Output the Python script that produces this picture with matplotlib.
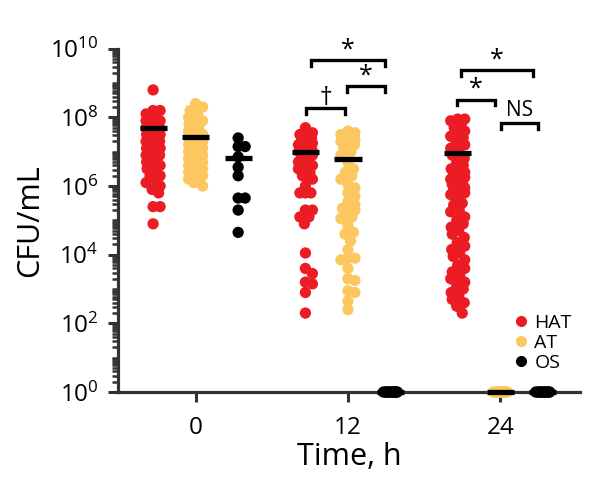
import numpy as np
import matplotlib
matplotlib.use("Agg")
from matplotlib import pyplot as plt
from matplotlib.ticker import FixedLocator, NullFormatter, LogFormatterSciNotation
from matplotlib.lines import Line2D

plt.rcParams['font.family'] = ['Open Sans', 'DejaVu Sans']
plt.rcParams['mathtext.fontset'] = 'custom'
plt.rcParams['mathtext.rm'] = 'Open Sans'

# data, log10 CFU/mL (0 = below detection, plotted at 10^0)
times = [0, 12, 24]
groups = ["HAT", "AT", "OS"]
colors = {"HAT": "#ec1c24", "AT": "#fdc75f", "OS": "#000000"}

hat_0 = [8.8, 8.2, 8.2, 8.1, 8.0, 8.0, 7.9, 7.9, 7.8, 7.8, 7.7, 7.7, 7.6, 7.6, 7.5,
         7.5, 7.4, 7.4, 7.3, 7.3, 7.2, 7.2, 7.1, 7.1, 7.0, 7.0, 6.9, 6.9, 6.8, 6.8,
         6.7, 6.6, 6.6, 6.5, 6.4, 6.3, 6.3, 6.2, 6.1, 6.0, 5.9, 5.8, 5.4, 5.4, 4.9]
at_0 = [8.4, 8.3, 8.2, 8.1, 8.0, 7.9, 7.9, 7.8, 7.7, 7.7, 7.6, 7.5, 7.5, 7.4, 7.4,
        7.3, 7.3, 7.2, 7.2, 7.1, 7.1, 7.0, 7.0, 6.9, 6.9, 6.8, 6.8, 6.7, 6.7, 6.6,
        6.6, 6.5, 6.5, 6.4, 6.4, 6.3, 6.3, 6.2, 6.2, 6.1, 6.0]
os_0 = [7.4, 7.15, 7.15, 6.85, 6.55, 6.3, 5.65, 5.65, 5.3, 4.65]

hat_12 = [7.7, 7.55, 7.5, 7.45, 7.4, 7.35, 7.3, 7.25, 7.2, 7.1, 7.05, 7.0, 6.95, 6.9,
          6.85, 6.8, 6.7, 6.6, 6.55, 6.5, 6.4, 6.3, 6.3, 6.2, 6.0, 5.8, 5.8, 5.8,
          5.3, 5.3, 5.1, 5.1, 4.9, 4.05, 3.6, 3.45, 3.2, 3.15, 2.9, 2.3]
at_12 = [7.6, 7.55, 7.5, 7.45, 7.4, 7.35, 7.3, 7.25, 7.2, 7.1, 7.0, 6.9, 6.7, 6.5,
         6.4, 6.3, 6.2, 6.05, 5.95, 5.8, 5.7, 5.55, 5.45, 5.35, 5.3, 5.3, 5.2, 5.1,
         5.05, 4.85, 4.65, 4.6, 4.4, 4.15, 3.9, 3.9, 3.85, 3.6, 3.3, 3.25, 2.95,
         2.9, 2.65, 2.4]
os_12 = [0, 0, 0, 0, 0, 0, 0, 0, 0, 0, 0, 0]

hat_24 = [7.95, 7.95, 7.9, 7.8, 7.7, 7.6, 7.55, 7.45, 7.4, 7.3, 7.2, 7.1, 7.0, 6.9,
          6.8, 6.7, 6.6, 6.5, 6.45, 6.4, 6.35, 6.3, 6.25, 6.2, 6.15, 6.1, 6.05, 6.0,
          5.95, 5.9, 5.85, 5.8, 5.75, 5.7, 5.5, 5.45, 5.3, 5.25, 5.1, 5.0, 4.9, 4.8,
          4.7, 4.6, 4.5, 4.35, 4.25, 4.15, 4.05, 3.95, 3.85, 3.7, 3.6, 3.5, 3.4,
          3.3, 3.2, 3.1, 3.0, 2.9, 2.8, 2.7, 2.6, 2.5, 2.3]
at_24 = [0, 0, 0, 0, 0, 0, 0, 0, 0, 0, 0, 0]
os_24 = [0, 0, 0, 0, 0, 0, 0, 0, 0, 0, 0, 0]

# group means (log10)
means = {
    (0, "HAT"): 7.69, (0, "AT"): 7.43, (0, "OS"): 6.81,
    (12, "HAT"): 6.99, (12, "AT"): 6.79, (12, "OS"): 0,
    (24, "HAT"): 6.97, (24, "AT"): 0, (24, "OS"): 0,
}

values = {
    (0, "HAT"): hat_0, (0, "AT"): at_0, (0, "OS"): os_0,
    (12, "HAT"): hat_12, (12, "AT"): at_12, (12, "OS"): os_12,
    (24, "HAT"): hat_24, (24, "AT"): at_24, (24, "OS"): os_24,
}

# significance brackets: x from, x to, height (log10), label
br_x0 = [9.1, 11.95, 8.7, 20.6, 24.05, 20.9]
br_x1 = [14.9, 14.9, 11.8, 23.55, 26.95, 26.6]
br_h = [9.68, 8.90, 8.27, 8.52, 7.84, 9.38]
br_lab = ["*", "*", "\u2020", "*", "NS", "*"]

offset = 3.35

fig = plt.figure(figsize=(6, 4.87), dpi=100)
ax = fig.add_axes([0.197, 0.195, 0.77, 0.705])
ax.set_yscale('log')
ax.set_xlim(-6.1, 30.3)
ax.set_ylim(1, 1e10)


def swarm(xc, ys, d=8.5, maxw=7.0):
    # simple beeswarm in pixel space
    pts = ax.transData.transform(np.column_stack([np.full(len(ys), xc), ys]))
    order = np.argsort(-pts[:, 1])
    placed = []
    out = np.zeros_like(pts)
    cands = [0.0]
    for k in np.arange(0.5, maxw + 0.01, 0.5):
        cands += [k, -k]
    for i in order:
        px, py = pts[i]
        best, best_d = cands[0], -1
        for c in cands:
            if placed:
                pp = np.array(placed)
                md = np.min(np.hypot(pp[:, 0] - (px + c), pp[:, 1] - py))
            else:
                md = np.inf
            if md >= d:
                best = c
                break
            if md > best_d:
                best, best_d = c, md
        placed.append((px + best, py))
        out[i] = (px + best, py)
    return ax.transData.inverted().transform(out)


for t in times:
    for j, g in enumerate(groups):
        xc = t + (j - 1) * offset
        ys = np.power(10.0, np.array(values[(t, g)], dtype=float))
        xy = swarm(xc, ys)
        ax.scatter(xy[:, 0], xy[:, 1], s=66, color=colors[g], edgecolors='none',
                   clip_on=False, zorder=3)
        m = 10 ** means[(t, g)]
        ax.plot([xc - 1.07, xc + 1.07], [m, m], color='black', lw=3.8,
                solid_capstyle='butt', clip_on=False, zorder=4)

for x0, x1, h, lab in zip(br_x0, br_x1, br_h, br_lab):
    top = 10 ** h
    low = 10 ** (h - 0.17)
    ax.plot([x0, x0, x1, x1], [low, top, top, low], color='black', lw=2.4,
            clip_on=False, solid_joinstyle='miter')
    fs = 15 if lab == "NS" else 18
    dy = 0.36 if lab == "NS" else 0.29
    ax.text((x0 + x1) / 2, 10 ** (h + dy), lab, ha='center', va='center',
            fontsize=fs, family=['Open Sans', 'DejaVu Sans'])

# axes styling
for s in ['top', 'right']:
    ax.spines[s].set_visible(False)
for s in ['left', 'bottom']:
    ax.spines[s].set_color('#333333')
    ax.spines[s].set_linewidth(2.3)

ax.set_xticks(times)
ax.set_xticklabels([str(t) for t in times])
ax.yaxis.set_major_locator(FixedLocator([10.0 ** e for e in range(0, 11, 2)]))
ax.yaxis.set_major_formatter(LogFormatterSciNotation())
minor = [k * 10.0 ** e for e in range(0, 10) for k in range(2, 10)]
minor += [10.0 ** e for e in range(1, 10, 2)]
ax.yaxis.set_minor_locator(FixedLocator(minor))
ax.yaxis.set_minor_formatter(NullFormatter())
ax.tick_params(axis='both', which='major', direction='out', length=7, width=2.2,
               color='#333333', labelsize=17.5)
ax.tick_params(axis='y', which='major', pad=7)
ax.tick_params(axis='x', which='major', pad=10)
ax.tick_params(axis='y', which='minor', direction='out', length=4, width=1.8,
               color='#333333')
ax.tick_params(axis='x', which='minor', length=0)

ax.set_xlabel("Time, h", fontsize=22, labelpad=2)
ax.set_ylabel("CFU/mL", fontsize=22, labelpad=4)

handles = [Line2D([], [], marker='o', ls='none', color=colors[g], markersize=8,
                  markeredgewidth=0) for g in groups]
ax.legend(handles, groups, loc='lower left', bbox_to_anchor=(0.825, 0.03),
          frameon=False, fontsize=14, handletextpad=0.1, labelspacing=0.1,
          borderpad=0, handlelength=1.2)

fig.savefig("out.png", dpi=100)
